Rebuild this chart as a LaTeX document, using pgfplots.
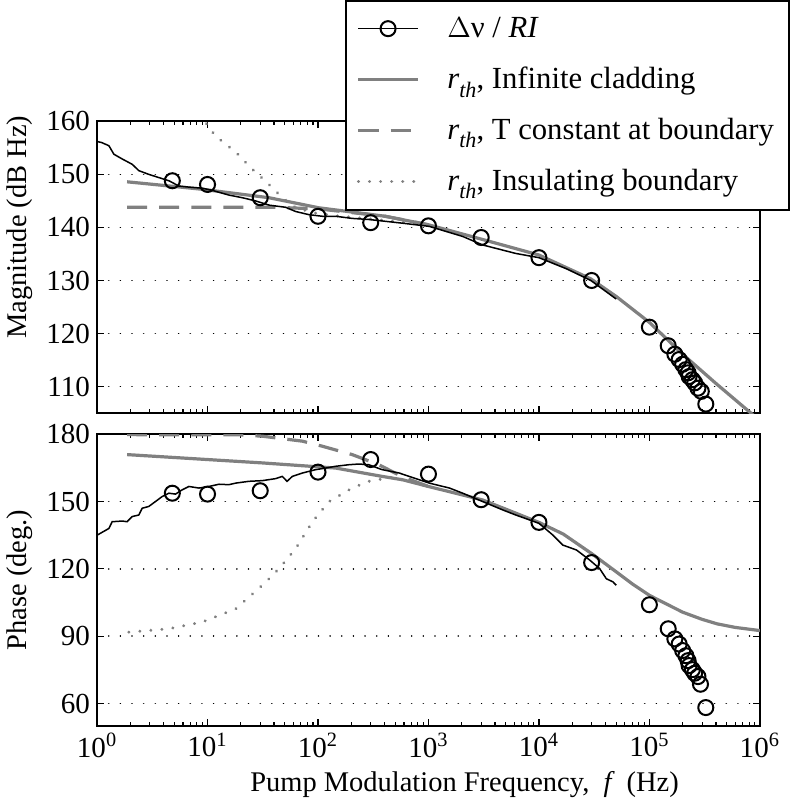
\documentclass[border=0pt]{standalone}
\usepackage{fontspec}
\setmainfont{Liberation Serif}
\usepackage{pgfplots}
\pgfplotsset{compat=1.18}
\usetikzlibrary{calc}
\definecolor{lgray}{RGB}{128,128,128}
\newcommand{\rth}{\textit{r}\raisebox{-0.6ex}{\fontsize{11}{12}\selectfont\textit{th}},}
\pgfplotsset{
  every axis/.append style={
    width=330.5pt, height=145.5pt, scale only axis,
    xmode=log, xmin=1, xmax=1e6,
    axis line style={line width=1pt},
    tick style={black, line width=0.6pt},
    major tick length=3.5pt, minor tick length=2pt,
    tick align=inside,
    ymajorgrids, xmajorgrids=false,
    major grid style={black, line width=0.8pt, dash pattern=on 0.01pt off 5.8pt, line cap=round},
    /pgf/number format/assume math mode=true,
    tick label style={font=\fontsize{14.5}{17}\selectfont},
    label style={font=\fontsize{14.2}{17}\selectfont},
    clip=true,
  },
  dataline/.style={black, line width=0.75pt},
  circ/.style={only marks, mark=o, mark size=3.75pt, mark options={black, line width=1pt}},
  infc/.style={lgray, line width=1.6pt},
  tconst/.style={lgray, line width=1.6pt, dash pattern=on 10pt off 6pt},
  insul/.style={lgray, line width=1.6pt, dash pattern=on 0.01pt off 5.5pt, line cap=round},
}
\begin{document}
\begin{tikzpicture}[font=\fontsize{14.5}{17}\selectfont]
\begin{axis}[name=top,
  ymin=105, ymax=160, ytick={110,120,130,140,150,160},
  xticklabel=\empty,
  ylabel={Magnitude (dB Hz)},
  ylabel style={xshift=20pt},
  legend style={at={(rel axis cs:1,1)}, anchor=north east, xshift=15pt, yshift=60.5pt,
    draw=black, line width=1pt, fill=white, row sep=9.3pt,
    inner xsep=5.5pt, inner ysep=6pt,
    font=\fontsize{15.3}{17}\selectfont,
    /tikz/every odd column/.append style={column sep=12pt}},
  legend cell align=left,
  legend image code/.code={\draw[mark repeat=2,mark phase=2,#1] plot coordinates {(0pt,0pt) (14.75pt,0pt) (29.5pt,0pt)};},
]
\addlegendimage{black, line width=0.75pt, mark=o, mark size=3.75pt, mark options={line width=1pt}}
\addlegendentry{$\Delta$ν / \textit{RI}}
\addlegendimage{infc}
\addlegendentry{\rth\ Infinite cladding}
\addlegendimage{tconst}
\addlegendentry{\rth\ T constant at boundary}
\addlegendimage{insul}
\addlegendentry{\rth\ Insulating boundary}

% infinite cladding
\addplot[infc, forget plot] coordinates {
(1.87,148.6) (8.9,147.2) (36,145.6) (102,143.7) (407,142.1) (1000,140.5)
(3000,137.8) (10000,134.8) (29500,130.3) (50000,127.0) (100000,122.1)
(200000,116.1) (400000,110.6) (830000,105) (1000000,103.5)};
% T constant
\addplot[tconst, forget plot] coordinates {
(1.87,143.8) (40,143.8) (100,143.5) (407,142.1) (1000,140.5)};
% insulating
\addplot[insul, forget plot] coordinates {
(8.5,161.2) (10.35,158.9) (11.7,157.3) (18,154.2) (25.4,151.0) (36,148.1)
(47.5,145.6) (63,143.7) (95,142.7) (145,142.2) (300,141.6) (1000,140.5)};
% measured line
\addplot[dataline, forget plot] coordinates {
(1,156.2) (1.1,156.0) (1.28,155.4) (1.42,153.8) (1.69,152.9) (2.08,151.9) (2.39,150.7)
(2.94,150.0) (3.62,149.4) (4.47,148.8) (5.51,147.8) (6.78,147.6) (8.95,147.4)
(11.0,147.0) (15.6,146.1) (20.7,145.6) (27.2,145.0) (36.1,144.2) (50.9,143.8)
(62.8,143.0) (83.0,142.4) (110,142.1) (145,142.1) (204,141.7) (288,141.5)
(582,140.8) (1016,140.2) (2042,138.3) (3090,136.7) (6166,135.1) (10000,134.3)
(17783,132.2) (29512,130.0) (50119,126.5)};
% circles
\addplot[circ, forget plot] coordinates {
(4.8,148.8) (10,148.1) (30,145.6) (100,142.1) (300,140.9) (1000,140.3)
(3000,138.1) (10000,134.3) (30000,130.0) (100000,121.2) (148000,117.7)
(170000,116.1) (186000,115.1) (200000,114.2) (214000,113.2) (224000,112.6)
(229000,111.9) (245000,111.3) (257000,110.7) (275000,109.7) (295000,109.1)
(324000,106.7)};
\end{axis}

\begin{axis}[name=bot, at={($(top.south west)+(0,-10.5pt)$)}, anchor=north west,
  ymin=50, ymax=180, ytick={60,90,120,150,180},
  xtick={1,10,100,1000,10000,100000,1000000},
  xticklabels={10\textsuperscript{0},10\textsuperscript{1},10\textsuperscript{2},10\textsuperscript{3},10\textsuperscript{4},10\textsuperscript{5},10\textsuperscript{6}},
  ylabel={Phase (deg.)},
  xlabel={Pump Modulation Frequency,\ \ \textit{f}\ \,(Hz)},
  xlabel style={xshift=18pt},
]
\addplot[infc] coordinates {
(1.87,170.9) (31.3,167.2) (145,164.9) (380,161.2) (582,159.7) (1000,156.7)
(3090,150.7) (10000,140.7) (16600,135.5) (30000,126.8) (50000,118.7)
(70000,113.3) (100000,108.2) (150000,103.8) (200000,100.7) (300000,97.5)
(410000,95.5) (600000,93.9) (1000000,92.5)};
\addplot[tconst] coordinates {
(1.87,179.8) (20,179.7) (31.3,179.1) (72,176.9) (110,174.6) (204,170.9)
(355,166.4) (582,161.0) (1000,156.7)};
\addplot[insul] coordinates {
(1.94,91.8) (4.47,93.3) (8.95,96.3) (18,102.2) (31.3,112.7) (44.4,120.1)
(63,129.1) (89,141.0) (126,150.0) (204,156.0) (288,159.0) (468,160.8) (1000,156.7)};
\addplot[dataline] coordinates {
(1,135.0) (1.28,138.0) (1.37,141.0) (1.69,141.3) (1.87,141.0) (2.08,143.3)
(2.39,144.0) (2.56,147.0) (2.94,147.8) (3.38,150.0) (3.88,152.2) (4.47,153.7)
(5.13,153.3) (5.89,155.2) (6.78,156.7) (8.36,156.0) (10.3,156.7) (12.7,157.7)
(15.6,157.5) (18.0,158.2) (23.7,159.0) (31.3,159.3) (41.4,160.2) (47.5,161.2)
(52.5,159.0) (58.6,161.2) (72.3,162.7) (95.3,164.2) (117,164.9) (145,165.7)
(191,166.4) (234,166.7) (288,166.4) (380,164.2) (543,162.7) (1016,158.2)
(1549,156.0) (2042,153.7) (3090,150.0) (4677,146.3) (6166,144.0) (10000,140.3)
(13335,135.1) (16444,130.6) (21878,128.4) (28840,123.9) (35481,120.1)
(40738,115.6) (46774,114.2) (50119,112.7)};
\addplot[circ] coordinates {
(4.8,153.7) (10,153.3) (30,154.8) (100,163.1) (300,168.7) (1000,162.2)
(3000,150.8) (10000,140.7) (30000,122.8) (100000,104.0) (148000,93.3)
(170000,88.8) (186000,86.5) (200000,83.6) (214000,81.3) (224000,79.1)
(229000,76.9) (245000,75.1) (257000,73.5) (275000,72.0) (290000,68.6)
(324000,58.2)};
\end{axis}
\end{tikzpicture}
\end{document}
